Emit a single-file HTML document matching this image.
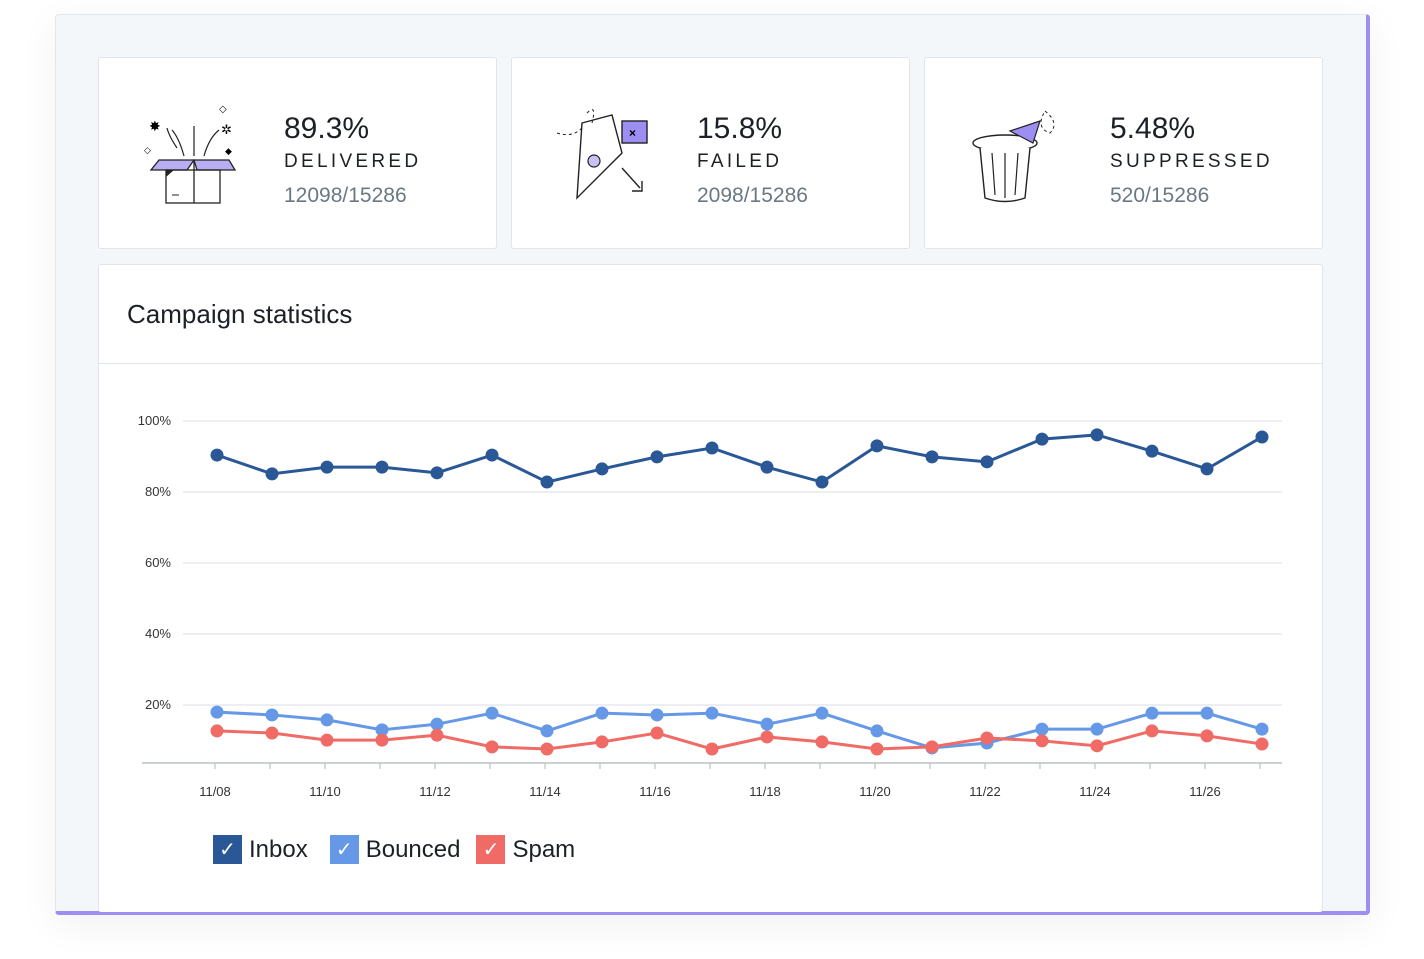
<!DOCTYPE html>
<html><head><meta charset="utf-8"><style>
body{margin:0;width:1424px;height:959px;background:#fff;font-family:"Liberation Sans",sans-serif;position:relative;overflow:hidden}
.frame{position:absolute;left:55px;top:14px;width:1310px;height:896px;background:#f4f7fa;border:1px solid #e3e7ec;border-right:4px solid #9d8ef2;border-bottom:4px solid #9d8ef2;border-radius:4px;box-shadow:0 10px 40px rgba(0,0,0,0.06)}
.card{position:absolute;background:#fff;border:1px solid #e1e5ea;border-radius:3px;box-sizing:border-box}
.pct{position:absolute;font-size:30px;color:#1d2127}
.lbl{position:absolute;font-size:19px;letter-spacing:3.3px;color:#1d2127}
.cnt{position:absolute;font-size:21px;color:#6b7884}
.icon{position:absolute}
</style></head><body>
<div class="frame"></div>

<div class="card" style="left:98px;top:57px;width:399px;height:192px">
 <svg class="icon" style="left:40px;top:40px" width="100" height="110">
  <polygon points="20,62 55,62 48,72 12,72" fill="#b9aef3" stroke="#222" stroke-width="1.3"/>
  <polygon points="55,62 90,62 96,72 58,72" fill="#b9aef3" stroke="#222" stroke-width="1.3"/>
  <rect x="27" y="72" width="54" height="33" fill="none" stroke="#222" stroke-width="1.3"/>
  <line x1="55" y1="62" x2="55" y2="105" stroke="#222" stroke-width="1.3"/>
  <path d="M27 72 L35 72 L27 79Z" fill="#222"/>
  <line x1="33" y1="97" x2="40" y2="97" stroke="#222"/>
  <path d="M45 58 Q40 40 33 32 M55 58 V28 M65 58 Q70 40 80 32 M38 50 Q30 38 28 30" fill="none" stroke="#222" stroke-width="1.2"/>
  <text x="10" y="33" font-size="14">✸</text><text x="80" y="14" font-size="10">◇</text><text x="5" y="55" font-size="9">◇</text><text x="86" y="56" font-size="9">◆</text><text x="82" y="36" font-size="13">✲</text>
 </svg>
 <div class="pct" style="left:185px;top:54px">89.3%</div>
 <div class="lbl" style="left:185px;top:93px">DELIVERED</div>
 <div class="cnt" style="left:185px;top:126px">12098/15286</div>
</div>

<div class="card" style="left:511px;top:57px;width:399px;height:192px">
 <svg class="icon" style="left:40px;top:45px" width="100" height="105">
  <path d="M30 20 L60 12 L70 50 L25 95 Z" fill="#fff" stroke="#222" stroke-width="1.4"/>
  <rect x="70" y="18" width="25" height="22" fill="#9d8ef2" stroke="#222" stroke-width="1.4"/>
  <text x="77" y="34" font-size="12" font-weight="bold">×</text>
  <circle cx="42" cy="58" r="6" fill="#c9c0f6" stroke="#222" stroke-width="1.2"/>
  <path d="M70 65 L88 85 M80 88 L90 88 L90 78" fill="none" stroke="#222" stroke-width="1.4"/>
  <path d="M5 30 Q20 35 30 25 M35 10 Q45 0 40 20" fill="none" stroke="#222" stroke-dasharray="3,3"/>
 </svg>
 <div class="pct" style="left:185px;top:54px">15.8%</div>
 <div class="lbl" style="left:185px;top:93px">FAILED</div>
 <div class="cnt" style="left:185px;top:126px">2098/15286</div>
</div>

<div class="card" style="left:924px;top:57px;width:399px;height:192px">
 <svg class="icon" style="left:40px;top:45px" width="100" height="105">
  <ellipse cx="40" cy="40" rx="32" ry="8" fill="#fff" stroke="#222" stroke-width="1.4"/>
  <path d="M15 45 L20 95 Q40 102 60 95 L65 45" fill="#fff" stroke="#222" stroke-width="1.4"/>
  <path d="M27 50 L30 92 M40 50 V95 M53 50 L50 92" stroke="#222" stroke-width="1.2"/>
  <polygon points="45,28 75,18 68,40" fill="#9d8ef2" stroke="#222" stroke-width="1.2"/>
  <path d="M80 8 Q95 20 85 30 Q70 25 80 8" fill="none" stroke="#222" stroke-dasharray="3,3"/>
 </svg>
 <div class="pct" style="left:185px;top:54px">5.48%</div>
 <div class="lbl" style="left:185px;top:93px">SUPPRESSED</div>
 <div class="cnt" style="left:185px;top:126px">520/15286</div>
</div>

<div class="card" style="left:98px;top:264px;width:1225px;height:648px;border-bottom:none">
 <div style="position:absolute;left:28px;top:34px;font-size:26px;color:#1d2127">Campaign statistics</div>
 <div style="position:absolute;left:0;top:98px;width:100%;height:1px;background:#e3e7ec"></div>
</div>

<svg id="chart" style="position:absolute;left:0;top:0" width="1424" height="959"></svg>

<div style="position:absolute;left:213px;top:835px;display:flex;align-items:center;font-size:24px;color:#1d2127">
 <span style="display:inline-flex;align-items:center;margin-right:22px"><span style="width:29px;height:29px;background:#2a5896;color:#fff;display:inline-flex;align-items:center;justify-content:center;font-size:20px;margin-right:7px">✓</span>Inbox</span>
 <span style="display:inline-flex;align-items:center;margin-right:16px"><span style="width:29px;height:29px;background:#6598e6;color:#fff;display:inline-flex;align-items:center;justify-content:center;font-size:20px;margin-right:7px">✓</span>Bounced</span>
 <span style="display:inline-flex;align-items:center"><span style="width:29px;height:29px;background:#f06b66;color:#fff;display:inline-flex;align-items:center;justify-content:center;font-size:20px;margin-right:7px">✓</span>Spam</span>
</div>

<script>
const categories=["11/08","11/09","11/10","11/11","11/12","11/13","11/14","11/15","11/16","11/17","11/18","11/19","11/20","11/21","11/22","11/23","11/24","11/25","11/26","11/27"];
const inboxValues=[90.4,85.1,87.0,87.0,85.4,90.4,82.8,86.5,89.9,92.4,87.0,82.8,93.0,89.9,88.5,94.9,96.1,91.5,86.5,95.5];
const bouncedValues=[18.0,17.2,15.8,13.0,14.6,17.7,12.7,17.7,17.2,17.7,14.6,17.7,12.7,7.9,9.3,13.2,13.2,17.7,17.7,13.2];
const spamValues=[12.7,12.1,10.1,10.1,11.5,8.2,7.6,9.6,12.1,7.6,11.0,9.6,7.6,8.2,10.7,9.9,8.5,12.7,11.3,9.0];
const yTicks=[20,40,60,80,100];
const svg=document.getElementById('chart');const NS="http://www.w3.org/2000/svg";
function x(i){return 217+i*(1262-217)/(categories.length-1);}
function y(v){return 776-v*3.55;}
function mk(t,a){const e=document.createElementNS(NS,t);for(const k in a)e.setAttribute(k,a[k]);svg.appendChild(e);return e;}
yTicks.forEach(v=>{
 const l=mk('line',{x1:183,x2:1282,y1:y(v),y2:y(v),stroke:'#e6e9ed','stroke-width':1.5});
 
 
 const t=mk('text',{x:171,y:y(v)+4,'text-anchor':'end','font-size':13,fill:'#333','font-family':'Liberation Sans'});
 t.textContent=v+'%';
 
 
});
const ax=mk('line',{x1:142,x2:1282,y1:763,y2:763,stroke:'#b8c0c8','stroke-width':1.5});


categories.forEach((c,i)=>{
 const tx=x(i)-2;
 mk('line',{x1:tx,x2:tx,y1:763,y2:769,stroke:'#b8c0c8','stroke-width':1.2});
 if(i%2===0){const t=mk('text',{x:tx,y:796,'text-anchor':'middle','font-size':13,fill:'#333','font-family':'Liberation Sans'});
 t.textContent=c;
 
 }
});
function series(vals,color,name){
 const p=mk('polyline',{points:vals.map((v,i)=>x(i)+','+y(v)).join(' '),fill:'none',stroke:color,'stroke-width':3});
 
 
 vals.forEach((v,i)=>{const c=mk('circle',{cx:x(i),cy:y(v),r:6.5,fill:color});
 
 });
}
series(inboxValues,'#2a5896','inbox');
series(bouncedValues,'#6598e6','bounced');
series(spamValues,'#f06b66','spam');
</script>
</body></html>
